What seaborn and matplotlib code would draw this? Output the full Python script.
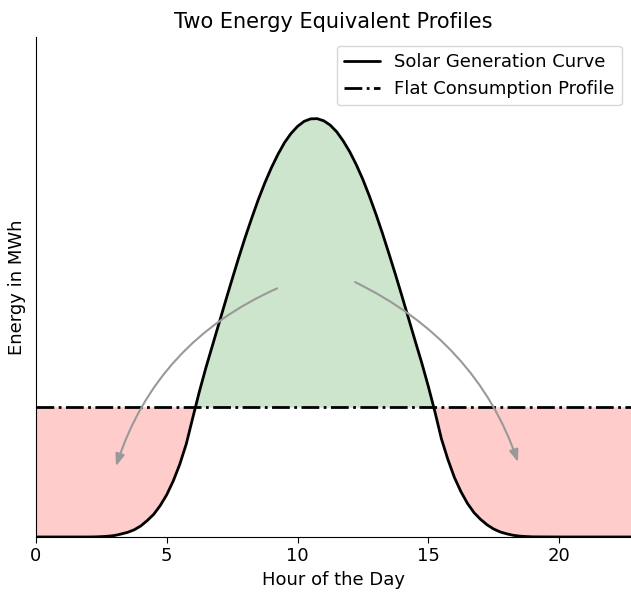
import matplotlib
matplotlib.use("Agg")
import matplotlib.pyplot as plt
import seaborn as sns
import pandas as pd

# hour of day and solar output (arbitrary units, peak = 100)
hours = [0, 1, 2, 2.25, 2.5, 2.75, 3, 3.25, 3.5, 3.75, 4, 4.25, 4.5, 4.75, 5, 5.25, 5.5,
         5.75, 6, 6.25, 6.5, 6.75, 7, 7.25, 7.5, 7.75, 8, 8.25, 8.5, 8.75, 9, 9.25, 9.5,
         9.75, 10, 10.25, 10.5, 10.75, 11, 11.25, 11.5, 11.75, 12, 12.25, 12.5, 12.75, 13,
         13.25, 13.5, 13.75, 14, 14.25, 14.5, 14.75, 15, 15.25, 15.5, 15.75, 16, 16.25,
         16.5, 16.75, 17, 17.25, 17.5, 17.75, 18, 18.25, 18.5, 18.75, 19, 20, 21, 22, 23]
solar = [0, 0, 0, 0.02, 0.08, 0.18, 0.35, 0.7, 1.1, 1.7, 2.6, 3.9, 5.4, 7.5, 10.1, 13.4,
         17.4, 22.3, 28.6, 34.8, 40.5, 45.8, 51.1, 56.4, 61.6, 66.7, 71.6, 76.2, 80.6, 84.6,
         88.2, 91.4, 94.2, 96.4, 98.1, 99.3, 99.9, 99.95, 99.45, 98.4, 96.8, 94.6, 92.0,
         88.9, 85.4, 81.4, 77.1, 72.5, 67.6, 62.6, 57.4, 52.1, 46.8, 41.6, 36.0, 30.0, 23.5,
         18.5, 14.2, 10.8, 8.0, 5.8, 4.2, 2.9, 1.9, 1.2, 0.75, 0.4, 0.2, 0.1, 0.03,
         0, 0, 0, 0]
flat_level = 31.0

# shifting arrows: (start x, start y) -> (end x, end y)
arrow_left = [(9.22, 59.4), (3.06, 16.9)]
arrow_right = [(12.2, 60.9), (18.43, 17.9)]

assert len(hours) == len(solar)
df = pd.DataFrame({"hour": hours, "solar": solar})
df["flat"] = flat_level

sns.set_style("white")
plt.rcParams["font.family"] = ["DejaVu Sans"]
plt.rcParams["text.color"] = "black"
plt.rcParams["axes.labelcolor"] = "black"
plt.rcParams["xtick.color"] = "black"
plt.rcParams["axes.edgecolor"] = "black"

fig = plt.figure(figsize=(6.31, 5.94), dpi=100)
ax = fig.add_axes([0.057, 0.096, 0.943, 0.842])

sns.lineplot(data=df, x="hour", y="solar", ax=ax, color="black", lw=2,
             label="Solar Generation Curve")
sns.lineplot(data=df, x="hour", y="flat", ax=ax, color="black", lw=2, linestyle="-.",
             label="Flat Consumption Profile")

ax.fill_between(df["hour"], df["solar"], df["flat"], where=df["solar"] >= df["flat"],
                color="green", alpha=0.2, interpolate=True, lw=0)
ax.fill_between(df["hour"], df["solar"], df["flat"], where=df["solar"] < df["flat"],
                color="red", alpha=0.2, interpolate=True, lw=0)

# arrows showing the surplus being moved to the deficit hours
arrow_style = "-|>,head_length=0.4,head_width=0.15"
ax.annotate("", xy=arrow_left[1], xytext=arrow_left[0],
            arrowprops=dict(arrowstyle=arrow_style, mutation_scale=18, color="#999999",
                            lw=1.5, shrinkA=0, shrinkB=0,
                            connectionstyle="angle3,angleA=24,angleB=72"))
ax.annotate("", xy=arrow_right[1], xytext=arrow_right[0],
            arrowprops=dict(arrowstyle=arrow_style, mutation_scale=18, color="#999999",
                            lw=1.5, shrinkA=0, shrinkB=0,
                            connectionstyle="angle3,angleA=-26,angleB=-71"))

ax.set_xlim(0, 22.75)
ax.set_ylim(0, 119.5)
ax.set_xticks([0, 5, 10, 15, 20])
ax.set_yticks([])
ax.tick_params(axis="x", labelsize=13, bottom=True, length=4)
ax.set_xlabel("Hour of the Day", fontsize=13)
ax.set_ylabel("Energy in MWh", fontsize=13)
ax.yaxis.set_label_coords(-0.016, 0.5)
ax.set_title("Two Energy Equivalent Profiles", fontsize=15)
sns.despine(ax=ax)
ax.legend(loc="upper right", fontsize=13, frameon=True)

fig.savefig("out.png", dpi=100)
